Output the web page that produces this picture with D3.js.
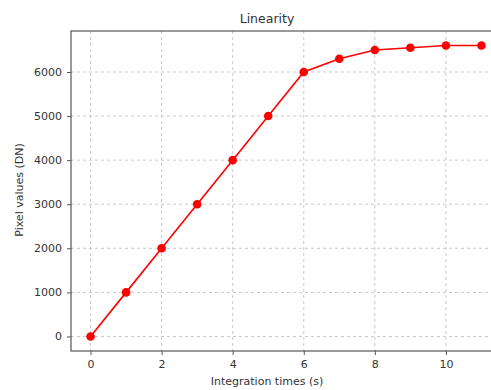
<!DOCTYPE html>
<html>
<head>
<meta charset="utf-8">
<script src="https://cdn.jsdelivr.net/npm/d3@7"></script>
<style>
  body { margin: 0; background: #fff; overflow: hidden; }
  text { font-family: "DejaVu Sans", sans-serif; fill: #333; }
</style>
</head>
<body>
<svg id="chart" width="491" height="390"></svg>
<script>
const times = [0, 1, 2, 3, 4, 5, 6, 7, 8, 9, 10, 11];
const pixelValues = [0, 1000, 2000, 3000, 4000, 5000, 6000, 6300, 6500, 6550, 6600, 6600];
const xTicks = [0, 2, 4, 6, 8, 10];
const yTicks = [0, 1000, 2000, 3000, 4000, 5000, 6000];

const margin = {top: 31, left: 71, bottom: 39};
const width = 501 - margin.left;  // axes run past the right edge (cropped like the original)
const height = 390 - margin.top - margin.bottom;

const svg = d3.select("#chart");
const g = svg.append("g").attr("transform", `translate(${margin.left},${margin.top})`);

const x = d3.scaleLinear().domain([-0.55, 11.55]).range([0, width]);
const y = d3.scaleLinear().domain([-330, 6930]).range([height, 0]);

// grid
g.selectAll("line.gx").data(xTicks).join("line")
  .attr("x1", d => x(d)).attr("x2", d => x(d))
  .attr("y1", 0).attr("y2", height)
  .attr("stroke", "#bbb").attr("stroke-dasharray", "3,3").attr("stroke-width", 0.8);
g.selectAll("line.gy").data(yTicks).join("line")
  .attr("x1", 0).attr("x2", width)
  .attr("y1", d => y(d)).attr("y2", d => y(d))
  .attr("stroke", "#bbb").attr("stroke-dasharray", "3,3").attr("stroke-width", 0.8);

// axes
const xAxis = g.append("g").attr("transform", `translate(0,${height})`)
  .call(d3.axisBottom(x).tickValues(xTicks).tickSize(4).tickPadding(5).tickFormat(d3.format("d")));
const yAxis = g.append("g")
  .call(d3.axisLeft(y).tickValues(yTicks).tickSize(4).tickPadding(5).tickFormat(d3.format("d")));
[xAxis, yAxis].forEach(a => {
  a.selectAll("text").attr("font-size", 11).attr("font-family", "DejaVu Sans").style("fill", "#333");
  a.selectAll("line").attr("stroke", "#555");
  a.select(".domain").remove();
});

// frame
g.append("rect").attr("width", width).attr("height", height)
  .attr("fill", "none").attr("stroke", "#555").attr("stroke-width", 1.2);

// line + markers
const pts = times.map((t, i) => ({t, v: pixelValues[i]}));
g.append("path").datum(pts)
  .attr("fill", "none").attr("stroke", "#ff0000").attr("stroke-width", 1.6)
  .attr("d", d3.line().x(d => x(d.t)).y(d => y(d.v)));
g.selectAll("circle").data(pts).join("circle")
  .attr("cx", d => x(d.t)).attr("cy", d => y(d.v)).attr("r", 4.3)
  .attr("fill", "#ff0000");

// labels
svg.append("text").attr("x", 267).attr("y", 23).attr("text-anchor", "middle")
  .attr("font-size", 12.5).text("Linearity");
svg.append("text").attr("x", 267).attr("y", 385).attr("text-anchor", "middle")
  .attr("font-size", 11).text("Integration times (s)");
svg.append("text").attr("transform", "translate(23,190) rotate(-90)").attr("text-anchor", "middle")
  .attr("font-size", 11).text("Pixel values (DN)");
</script>
</body>
</html>
